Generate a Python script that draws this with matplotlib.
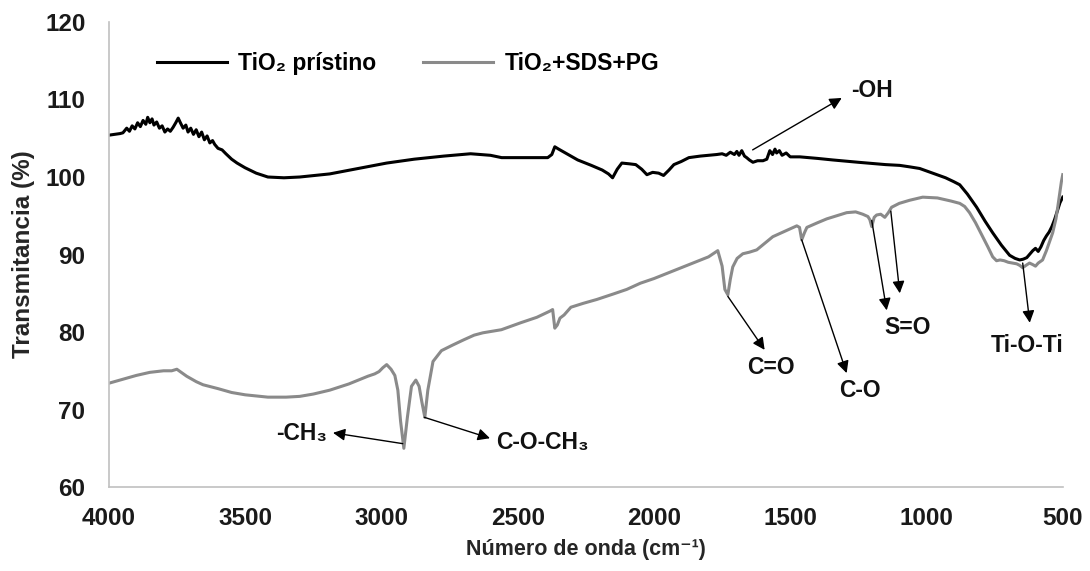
import matplotlib
matplotlib.use("Agg")
import matplotlib.pyplot as plt

# FTIR spectrum of pristine TiO2
wn_tio2 = [4000, 3980, 3960, 3949, 3935, 3925, 3915, 3905, 3895, 3885, 3875, 3865,
           3858, 3850, 3842, 3835, 3825, 3815, 3805, 3795, 3785, 3775, 3765, 3755,
           3746, 3738, 3728, 3718, 3710, 3700, 3690, 3680, 3670, 3660, 3650, 3640,
           3630, 3620, 3612, 3600, 3585, 3571, 3550, 3530, 3501, 3460, 3417, 3358,
           3300, 3190, 3100, 2981, 2880, 2771, 2673, 2600, 2559, 2480, 2390, 2375,
           2364, 2350, 2335, 2320, 2280, 2230, 2190, 2167, 2152, 2135, 2118, 2090,
           2067, 2045, 2026, 2005, 1983, 1965, 1945, 1927, 1900, 1872, 1830, 1800,
           1770, 1750, 1735, 1720, 1705, 1696, 1688, 1678, 1668, 1660, 1650, 1637,
           1620, 1600, 1586, 1575, 1565, 1556, 1550, 1540, 1530, 1515, 1500, 1465,
           1400, 1344, 1250, 1150, 1098, 1060, 1025, 977, 930, 900, 878, 850, 816,
           785, 757, 725, 695, 675, 658, 645, 632, 620, 610, 600, 590, 580, 570,
           560, 550, 540, 530, 520, 510, 500]
t_tio2 = [105.4, 105.5, 105.6, 105.7, 106.3, 105.9, 106.6, 106.2, 107.0, 106.5,
          107.3, 106.8, 107.7, 107.0, 107.5, 106.7, 107.1, 106.3, 106.6, 105.8,
          106.2, 105.9, 106.4, 107.0, 107.6, 107.0, 106.3, 106.7, 105.8, 106.3,
          105.5, 106.1, 105.2, 105.8, 104.8, 105.3, 104.4, 104.7, 104.2, 103.7,
          103.5, 103.0, 102.3, 101.8, 101.2, 100.5, 100.0, 99.9, 100.0, 100.4,
          101.0, 101.8, 102.3, 102.7, 103.0, 102.8, 102.5, 102.5, 102.5, 102.9,
          103.9, 103.6, 103.3, 103.0, 102.2, 101.5, 100.9, 100.4, 99.9, 101.0,
          101.8, 101.7, 101.6, 101.0, 100.3, 100.6, 100.5, 100.2, 100.9, 101.6,
          102.0, 102.5, 102.7, 102.8, 102.9, 103.0, 102.8, 103.2, 102.9, 103.3,
          102.8, 103.4, 102.7, 102.5, 102.2, 101.9, 102.1, 102.1, 102.3, 103.4,
          102.9, 103.6, 103.1, 103.4, 102.8, 103.1, 102.6, 102.6, 102.4, 102.2,
          101.9, 101.6, 101.5, 101.3, 101.1, 100.5, 99.9, 99.4, 99.0, 97.8,
          96.1, 94.3, 92.8, 91.2, 89.9, 89.5, 89.3, 89.4, 89.6, 90.1, 90.5,
          90.8, 90.4, 91.0, 91.8, 92.4, 92.9, 93.6, 94.5, 95.6, 96.7, 97.4]

# FTIR spectrum of TiO2 + SDS + PG
wn_mod = [4000, 3950, 3900, 3850, 3800, 3770, 3751, 3735, 3715, 3700, 3680, 3655,
          3600, 3550, 3500, 3417, 3350, 3300, 3250, 3190, 3120, 3050, 3025, 3009,
          2995, 2981, 2965, 2951, 2940, 2930, 2918, 2905, 2890, 2874, 2862, 2852,
          2841, 2830, 2811, 2780, 2740, 2698, 2660, 2628, 2560, 2489, 2430, 2382,
          2372, 2364, 2355, 2345, 2330, 2305, 2260, 2210, 2150, 2100, 2050, 2000,
          1950, 1900, 1850, 1800, 1766, 1750, 1740, 1729, 1720, 1711, 1695, 1674,
          1650, 1623, 1595, 1564, 1520, 1476, 1466, 1458, 1448, 1439, 1400, 1366,
          1330, 1293, 1260, 1234, 1215, 1208, 1201, 1192, 1183, 1168, 1153, 1140,
          1128, 1100, 1062, 1014, 960, 910, 878, 860, 842, 820, 794, 775, 757,
          743, 730, 715, 700, 685, 669, 658, 647, 635, 622, 610, 600, 590, 574,
          560, 548, 537, 525, 518, 511, 505, 500]
t_mod = [73.4, 73.9, 74.4, 74.8, 75.0, 75.0, 75.2, 74.8, 74.3, 74.0, 73.6, 73.2,
         72.7, 72.2, 71.9, 71.6, 71.6, 71.7, 72.0, 72.5, 73.3, 74.3, 74.6, 74.9,
         75.4, 75.8, 75.2, 74.4, 72.5, 68.5, 65.0, 69.0, 73.0, 73.8, 73.0, 71.0,
         69.0, 72.5, 76.2, 77.6, 78.3, 79.0, 79.6, 79.9, 80.3, 81.2, 81.9, 82.7,
         82.9, 80.5, 80.9, 81.8, 82.2, 83.2, 83.7, 84.2, 84.9, 85.5, 86.3, 86.9,
         87.6, 88.3, 89.0, 89.7, 90.5, 88.5, 85.5, 84.8, 86.8, 88.4, 89.5, 90.1,
         90.3, 90.6, 91.4, 92.3, 93.0, 93.7, 93.5, 91.9, 92.8, 93.5, 94.1, 94.6,
         95.0, 95.4, 95.5, 95.2, 94.9, 94.5, 93.6, 94.8, 95.1, 95.2, 94.8, 95.4,
         96.1, 96.6, 97.0, 97.4, 97.3, 96.9, 96.6, 96.2, 95.4, 94.1, 92.3, 91.0,
         89.7, 89.2, 89.3, 89.2, 89.0, 88.9, 88.8, 88.6, 88.3, 88.6, 88.9, 88.7,
         88.5, 88.9, 89.3, 90.5, 91.7, 92.8, 94.6, 96.2, 97.9, 99.4, 100.3]

series_labels = ["TiO\u2082 prístino", "TiO\u2082+SDS+PG"]
series_colors = ["#000000", "#8a8a8a"]

x_ticks = [4000, 3500, 3000, 2500, 2000, 1500, 1000, 500]
y_ticks = [60, 70, 80, 90, 100, 110, 120]

# band assignments: (label, arrow tail (wn, T), arrow head (wn, T), text position, alignment)
bands = [
    ("-OH", (1638, 103.5), (1311, 110.2), (1276, 111.2), "left"),
    ("C=O", (1729, 84.6), (1594, 77.7), (1572, 75.4), "center"),
    ("C-O", (1458, 91.9), (1293, 74.7), (1245, 72.5), "center"),
    ("S=O", (1201, 94.4), (1146, 82.8), (1069, 80.6), "center"),
    ("S=O", (1131, 95.6), (1098, 85.0), None, "center"),
    ("Ti-O-Ti", (647, 88.9), (621, 81.2), (630, 78.2), "center"),
    ("-CH\u2083", (2922, 65.6), (3178, 67.0), (3198, 66.9), "right"),
    ("C-O-CH\u2083", (2843, 69.0), (2602, 66.3), (2580, 65.8), "left"),
]

plt.rcParams["font.family"] = ["Liberation Sans", "DejaVu Sans"]

fig = plt.figure(figsize=(10.9, 5.71), dpi=100)
ax = fig.add_axes([0.1, 0.147, 0.875, 0.8145])

ax.plot(wn_tio2, t_tio2, color=series_colors[0], lw=2.2, label=series_labels[0])
ax.plot(wn_mod, t_mod, color=series_colors[1], lw=2.2, label=series_labels[1])

ax.set_xlim(4000, 500)
ax.set_ylim(60, 120)
ax.set_xticks(x_ticks)
ax.set_yticks(y_ticks)
ax.set_xticklabels([str(v) for v in x_ticks], fontsize=17.5, fontweight="bold")
ax.set_yticklabels([str(v) for v in y_ticks], fontsize=17.5, fontweight="bold")
ax.tick_params(axis="both", length=0, colors="#1a1a1a")
ax.tick_params(axis="x", pad=14)
ax.tick_params(axis="y", pad=17)

for side in ("top", "right"):
    ax.spines[side].set_visible(False)
for side in ("left", "bottom"):
    ax.spines[side].set_color("#c0c0c0")
    ax.spines[side].set_linewidth(1.2)

ax.set_ylabel("Transmitancia (%)", fontsize=17.5, fontweight="bold", color="#262626", labelpad=7)
ax.set_xlabel("Número de onda (cm\u207b\u00b9)", fontsize=15.5, fontweight="bold",
              color="#262626", labelpad=7)

for label, tail, head, text_pos, ha in bands:
    ax.annotate("", xy=head, xytext=tail,
                arrowprops=dict(arrowstyle="-|>", color="black", lw=1.0,
                                mutation_scale=18, shrinkA=0, shrinkB=0))
    if text_pos is not None:
        ax.text(text_pos[0], text_pos[1], label, ha=ha, va="center",
                fontsize=16.5, fontweight="bold", color="#111111")

leg = ax.legend(loc="center left", bbox_to_anchor=(0.0503, 0.9097), ncol=2, frameon=False,
                fontsize=16.5, handlelength=3.05, handletextpad=0.5, columnspacing=2.05,
                borderpad=0, borderaxespad=0)
for text in leg.get_texts():
    text.set_fontweight("bold")

fig.savefig("out.png", dpi=100, facecolor="white")
